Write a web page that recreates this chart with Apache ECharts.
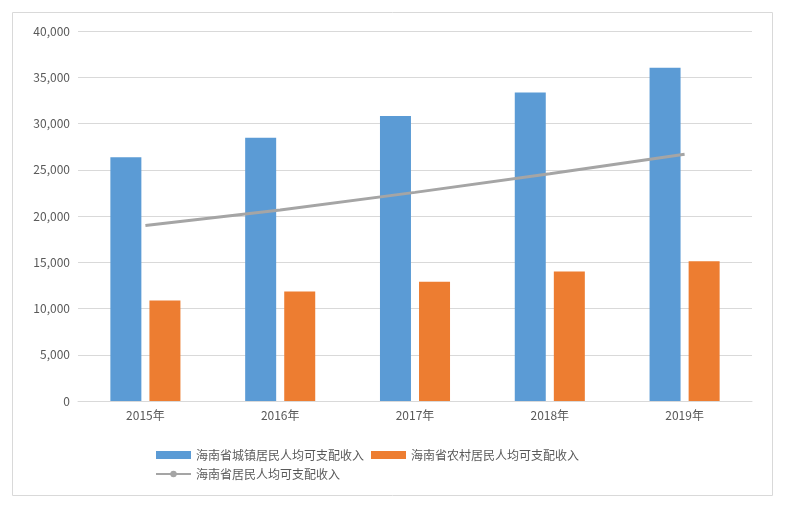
<!DOCTYPE html><html><head><meta charset="utf-8"><script src="https://cdn.jsdelivr.net/npm/echarts@6/dist/echarts.min.js"></script></head><body style="margin:0"><div id="c" style="width:806px;height:506px"></div><script>
const categories=['2015年','2016年','2017年','2018年','2019年'];
const urban=[26356,28453,30817,33349,36017];
const rural=[10858,11843,12902,13989,15113];
const total=[18979,20653,22553,24579,26679];
const c=echarts.init(document.getElementById('c'));
c.setOption({
graphic:[{type:'rect',shape:{x:12.5,y:12.5,width:760,height:483},style:{fill:'none',stroke:'#d9d9d9',lineWidth:1}}],
textStyle:{fontFamily:'Noto Sans CJK SC'},
grid:{left:78,right:54,top:31,bottom:105},
legend:{left:150,top:444,width:500,itemGap:7,itemWidth:35,itemHeight:8,textStyle:{color:'#595959',fontSize:12},
 data:[{name:'海南省城镇居民人均可支配收入',icon:'rect'},{name:'海南省农村居民人均可支配收入',icon:'rect'},{name:'海南省居民人均可支配收入'}]},
xAxis:{type:'category',data:categories,axisTick:{show:false},axisLine:{lineStyle:{color:'#d9d9d9'}},axisLabel:{color:'#595959',fontSize:12}},
yAxis:{type:'value',min:0,max:40000,interval:5000,axisLabel:{color:'#595959',fontSize:12},splitLine:{lineStyle:{color:'#d9d9d9'}}},
series:[
{name:'海南省城镇居民人均可支配收入',type:'bar',data:urban,barWidth:31,barGap:'26%',itemStyle:{color:'#5b9bd5'}},
{name:'海南省农村居民人均可支配收入',type:'bar',data:rural,barWidth:31,itemStyle:{color:'#ed7d31'}},
{name:'海南省居民人均可支配收入',type:'line',data:total,symbol:'none',lineStyle:{color:'#a5a5a5',width:3},itemStyle:{color:'#a5a5a5'}}
]});
</script></body></html>
